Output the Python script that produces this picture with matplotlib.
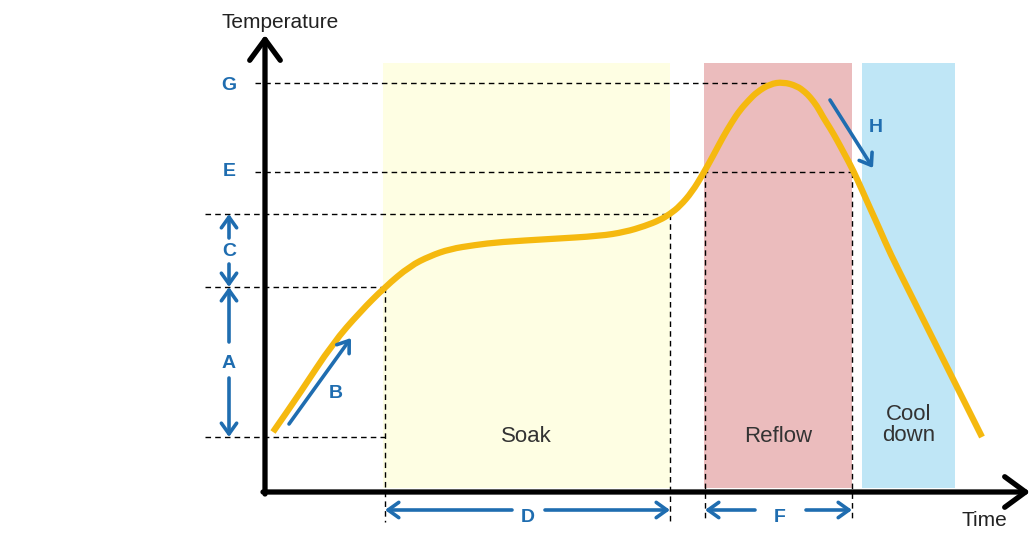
#!/usr/bin/env python3
"""
Reflow soldering temperature profile diagram.

Output: out.png
"""

import matplotlib

matplotlib.use("Agg")
import matplotlib.pyplot as plt
from matplotlib.patches import PathPatch
from matplotlib.path import Path

plt.rcParams["font.family"] = ["Liberation Sans", "DejaVu Sans"]

# Profile curve (arbitrary time / temperature units, origin at the axes corner)
curve_time = [8, 35, 68, 95, 120, 145, 165, 185, 210, 235, 285, 335, 360, 380,
              395, 405, 415, 427, 438, 448, 458, 467, 475, 484, 492, 505, 518,
              532, 540, 545, 552, 558, 565, 572, 580, 588, 597, 605, 615, 625,
              645, 665, 685, 702, 717]
curve_temp = [60, 99, 149, 180, 205, 226, 236, 243, 247, 250, 253, 256, 260, 266,
              272, 278, 286, 300, 318, 336, 355, 370, 382, 392, 400, 408, 410,
              406, 400, 395, 386, 375, 364, 352, 337, 322, 302, 284, 262, 239,
              199, 159, 119, 85, 55]

# Temperature levels
temp_start = 55      # bottom of A
temp_soak = 205      # top of A / bottom of C
temp_soak_end = 278  # top of C
temp_liquidus = 320  # E
temp_peak = 409      # G

# Time marks
time_soak_start = 120
time_soak_end = 405
time_reflow_start = 440
time_reflow_end = 587
time_peak = 518

# Shaded zones
zone_labels = ["Soak", "Reflow", "Cool\ndown"]
zone_start = [118, 439, 597]
zone_end = [405, 587, 690]
zone_colors = ["#FEFEE3", "#EBBCBD", "#BFE6F6"]
zone_top = 429

BLUE = "#1F6DB0"
CURVE = "#F5B90F"

fig = plt.figure(figsize=(10.32, 5.53), dpi=100)
ax = fig.add_axes([0, 0, 1, 1])
ax.set_xlim(-265, 767)
ax.set_ylim(-61, 492)
ax.axis("off")

# Zones
for label, t0, t1, col in zip(zone_labels, zone_start, zone_end, zone_colors):
    ax.fill_between([t0, t1], 4, zone_top, color=col, lw=0, zorder=1)
    ypos = 67 if "\n" in label else 55
    ax.text((t0 + t1) / 2, ypos, label, ha="center", va="center",
            fontsize=16, color="#333333", linespacing=1.0, zorder=3)

# Dashed guide lines
dash = dict(color="black", lw=1.0, ls=(0, (4, 3)), zorder=2)
ax.plot([-10, time_peak], [temp_peak] * 2, **dash)
ax.plot([-10, time_reflow_end], [temp_liquidus] * 2, **dash)
ax.plot([-60, time_soak_end], [temp_soak_end] * 2, **dash)
ax.plot([-60, time_soak_start], [temp_soak] * 2, **dash)
ax.plot([-60, time_soak_start], [temp_start] * 2, **dash)
ax.plot([time_soak_start] * 2, [temp_soak, -30], **dash)
ax.plot([time_soak_end] * 2, [temp_soak_end, -30], **dash)
ax.plot([time_reflow_start] * 2, [temp_liquidus, -30], **dash)
ax.plot([time_reflow_end] * 2, [temp_liquidus, -30], **dash)

# Profile curve: read points used as quadratic Bezier control points
pts = list(zip(curve_time, curve_temp))
verts = [pts[0], ((pts[0][0] + pts[1][0]) / 2, (pts[0][1] + pts[1][1]) / 2)]
codes = [Path.MOVETO, Path.LINETO]
for p, q in zip(pts[1:-1], pts[2:]):
    verts += [p, ((p[0] + q[0]) / 2, (p[1] + q[1]) / 2)]
    codes += [Path.CURVE3, Path.CURVE3]
verts.append(pts[-1])
codes.append(Path.LINETO)
ax.add_patch(PathPatch(Path(verts, codes), fill=False, edgecolor=CURVE,
                       lw=4.5, capstyle="butt", joinstyle="round", zorder=4))

# Axes arrows
axis_arrow = dict(arrowstyle="->,head_length=0.75,head_width=0.55", lw=3.8,
                  color="black", mutation_scale=20, shrinkA=0, shrinkB=0)
ax.annotate("", xy=(0, 457), xytext=(0, -2), arrowprops=axis_arrow, zorder=6)
ax.annotate("", xy=(765, 0), xytext=(-2, 0), arrowprops=axis_arrow, zorder=6)
ax.text(15, 470, "Temperature", ha="center", va="center", fontsize=15,
        color="#222222")
ax.text(719, -29, "Time", ha="center", va="center", fontsize=15,
        color="#222222")

# Blue dimension arrows
blue_arrow = dict(arrowstyle="->,head_length=0.7,head_width=0.5", lw=2.6,
                  color=BLUE, mutation_scale=11, shrinkA=0, shrinkB=0)


def arrow(x0, y0, x1, y1):
    ax.annotate("", xy=(x1, y1), xytext=(x0, y0), arrowprops=blue_arrow,
                zorder=5)


def label(x, y, s):
    ax.text(x, y, s, ha="center", va="center", fontsize=14,
            fontweight="bold", color=BLUE, zorder=5)


label(-36, temp_peak - 3, "G")
label(-36, temp_liquidus, "E")

# C
label(-36, 241, "C")
arrow(-36, 254, -36, temp_soak_end)
arrow(-36, 228, -36, temp_soak)
# A
label(-36, 128, "A")
arrow(-36, 150, -36, temp_soak)
arrow(-36, 114, -36, temp_start)
# B
label(71, 98, "B")
arrow(24, 68, 86, 154)
# H
label(611, 364, "H")
arrow(565, 392, 608, 324)
# D
label(263, -25, "D")
arrow(247, -18, time_soak_start, -18)
arrow(280, -18, time_soak_end, -18)
# F
label(515, -25, "F")
arrow(490, -18, time_reflow_start, -18)
arrow(541, -18, time_reflow_end, -18)

fig.savefig("out.png", dpi=100)
